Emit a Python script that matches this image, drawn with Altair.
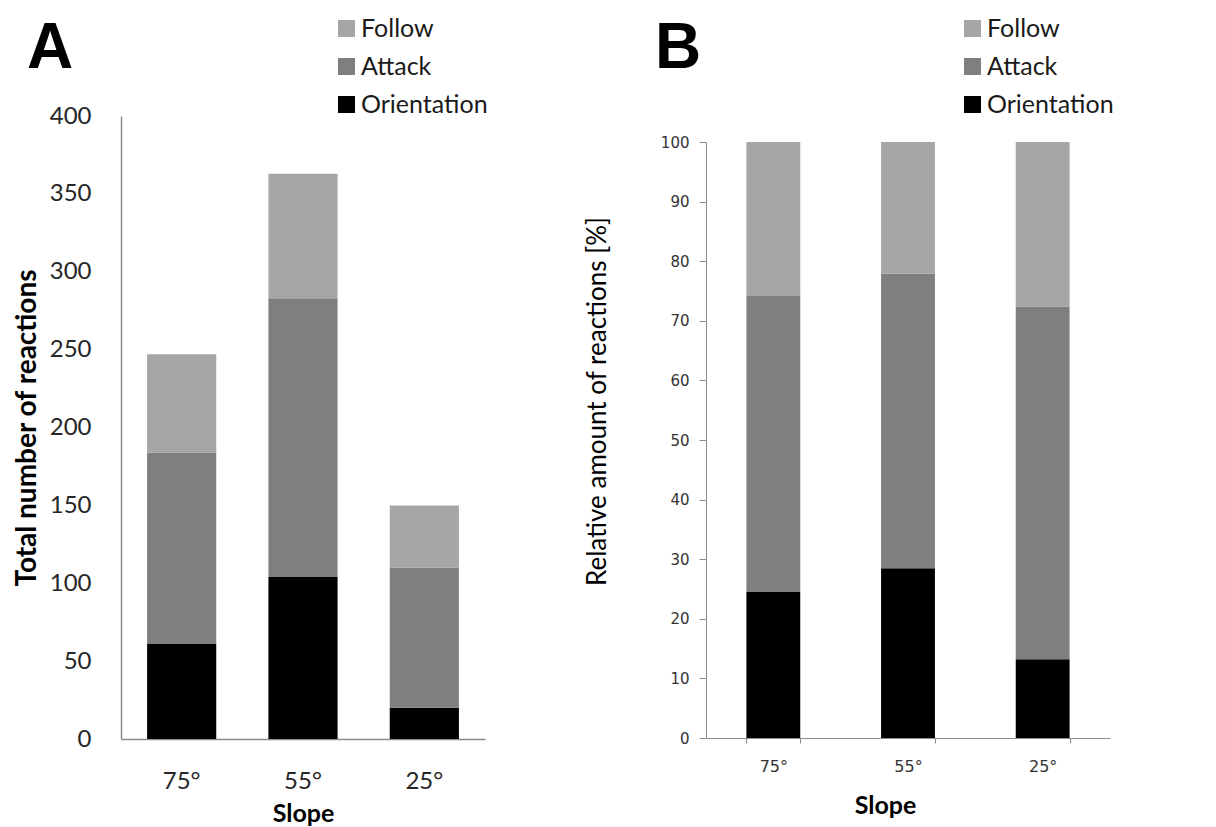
import altair as alt
import pandas as pd

slopes = ["75°", "55°", "25°"]
behaviours = ["Follow", "Attack", "Orientation"]
stack_rank = {"Orientation": 0, "Attack": 1, "Follow": 2}
grays = ["#a6a6a6", "#7f7f7f", "#000000"]

# Panel A: total number of reactions
count_orientation = [61, 104, 20]
count_attack = [123, 179, 90]
count_follow = [63, 80, 40]

# Panel B: relative amount of reactions [%]
pct_orientation = [24.6, 28.5, 13.2]
pct_attack = [49.7, 49.4, 59.2]
pct_follow = [25.7, 22.1, 27.6]

y_ticks_a = list(range(0, 401, 50))
y_ticks_b = list(range(0, 101, 10))


def long_table(o, a, f):
    rows = []
    for i, s in enumerate(slopes):
        for b, v in (("Orientation", o[i]), ("Attack", a[i]), ("Follow", f[i])):
            rows.append({"slope": s, "behaviour": b, "value": v, "rank": stack_rank[b]})
    return pd.DataFrame(rows)


df_a = long_table(count_orientation, count_attack, count_follow)
df_b = long_table(pct_orientation, pct_attack, pct_follow)

GRAY = "#8c8c8c"


def legend(x):
    return alt.Legend(
        title=None, orient="none", legendX=x, legendY=-100,
        symbolType="square", symbolSize=289, symbolStrokeWidth=0,
        labelFont="Lato", labelFontSize=25, labelColor="#1a1a1a",
        labelOffset=2, rowPadding=12, padding=0, labelLimit=400,
    )


def letter(t, x):
    return alt.Chart(pd.DataFrame({"t": [t]})).mark_text(
        align="left", baseline="alphabetic", fontSize=64, fontWeight="bold",
        font="Liberation Sans", color="black",
    ).encode(text="t:N", x=alt.value(x), y=alt.value(-48))


bars_a = alt.Chart(df_a).mark_bar().encode(
    x=alt.X(
        "slope:N", sort=slopes,
        scale=alt.Scale(paddingInner=0.43, paddingOuter=0.215),
        axis=alt.Axis(
            title="Slope", labelAngle=0, ticks=False, tickSize=0,
            labelFont="Lato", labelFontSize=24, labelColor="#262626", labelPadding=30,
            domainColor=GRAY, domainWidth=1.5,
            titleFont="Lato", titleFontSize=25, titleFontWeight="bold",
            titleColor="black", titlePadding=8,
        ),
    ),
    y=alt.Y(
        "value:Q", stack="zero",
        scale=alt.Scale(domain=[0, 400], nice=False),
        axis=alt.Axis(
            title="Total number of reactions", values=y_ticks_a, ticks=False, tickSize=0,
            labelFont="Lato", labelFontSize=24, labelColor="#262626", labelPadding=30,
            domainColor=GRAY, domainWidth=1.5, grid=False,
            titleFont="Lato", titleFontSize=28, titleFontWeight="bold",
            titleColor="black", titlePadding=8,
        ),
    ),
    color=alt.Color("behaviour:N", scale=alt.Scale(domain=behaviours, range=grays), legend=legend(213)),
    order=alt.Order("rank:Q", sort="ascending"),
)

panel_a = alt.layer(bars_a, letter("A", -94)).properties(width=364, height=623)

bars_b = alt.Chart(df_b).mark_bar().encode(
    x=alt.X(
        "slope:N", sort=slopes,
        scale=alt.Scale(paddingInner=0.6, paddingOuter=0.3),
        axis=alt.Axis(
            title="Slope", labelAngle=0, tickBand="extent", tickSize=5, tickColor=GRAY,
            labelFont="DejaVu Sans", labelFontSize=16, labelColor="#333333", labelPadding=15,
            domainColor=GRAY,
            titleFont="Lato", titleFontSize=25, titleFontWeight="bold",
            titleColor="black", titlePadding=19, titleX=179,
        ),
    ),
    y=alt.Y(
        "value:Q", stack="zero",
        scale=alt.Scale(domain=[0, 100], nice=False, range=[622, 26]),
        axis=alt.Axis(
            title="Relative amount of reactions [%]", values=y_ticks_b,
            tickSize=7, tickColor=GRAY, domainColor=GRAY, grid=False,
            labelFont="DejaVu Sans", labelFontSize=15, labelColor="#333333", labelPadding=10,
            titleFont="Lato", titleFontSize=26, titleFontWeight="normal",
            titleColor="black", titlePadding=50, titleY=285,
        ),
    ),
    color=alt.Color("behaviour:N", scale=alt.Scale(domain=behaviours, range=grays), legend=legend(254)),
    order=alt.Order("rank:Q", sort="ascending"),
)

panel_b = alt.layer(bars_b, letter("B", -51)).properties(width=404, height=622)

chart = (
    alt.hconcat(panel_a, panel_b, spacing=96)
    .resolve_scale(color="independent")
    .properties(padding={"left": 5, "top": 8, "right": 5, "bottom": 5})
    .configure_view(stroke=None)
    .configure_axis(grid=False)
)

chart.save("out.html", embed_options={"renderer": "svg", "actions": False})
